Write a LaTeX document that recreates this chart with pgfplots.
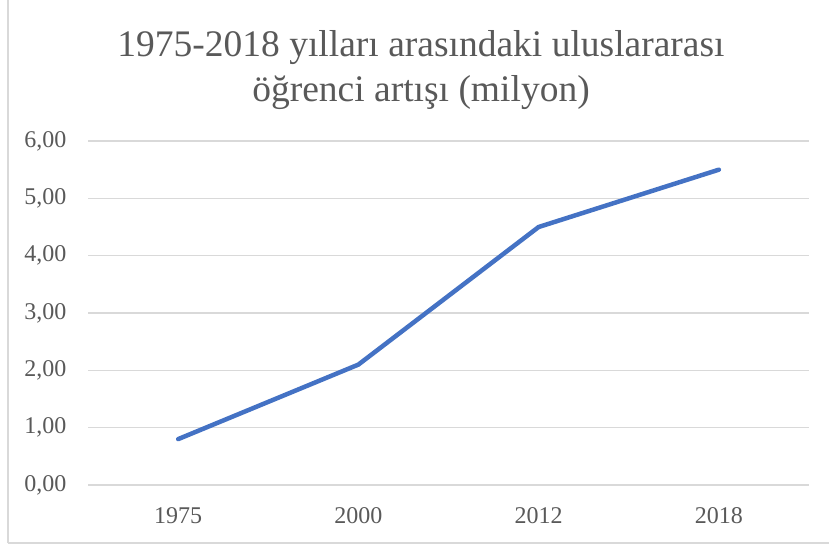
\documentclass[border=0pt]{standalone}
\usepackage{pgfplots}
\pgfplotsset{compat=1.18}
\usepackage{fontspec}
\setmainfont{Liberation Serif}
\definecolor{linecol}{HTML}{4472C4}
\definecolor{txt}{HTML}{595959}
\definecolor{gridgray}{HTML}{D9D9D9}
\begin{document}
\begin{tikzpicture}[x=1pt,y=1pt]
\path[use as bounding box] (0,0) rectangle (829,547);
\draw[gridgray,line width=1.5pt] (8,4) -- (8,560);
\draw[gridgray,line width=1.5pt] (8,4) -- (840,4);
\begin{axis}[
  at={(88pt,62pt)}, anchor=south west,
  scale only axis, width=721pt, height=344pt,
  xmin=-0.5, xmax=3.5, ymin=0, ymax=6,
  xtick={0,1,2,3}, xticklabels={1975,2000,2012,2018},
  ytick={0,1,2,3,4,5,6},
  axis line style={draw=none},
  major tick length=0pt,
  xmajorgrids=false, ymajorgrids=true,
  grid style={draw=gridgray,line width=1.2pt},
  tick label style={font=\fontsize{24}{28}\selectfont, text=txt},
  yticklabel style={xshift=-18pt},
  xticklabel style={yshift=-19pt},
  /pgf/number format/assume math mode=true,
  yticklabel={\pgfmathprintnumber[fixed,fixed zerofill,precision=2,use comma]{\tick}},
  clip=false,
]
\addplot[linecol, line width=4.5pt, line join=round, line cap=round] coordinates {(0,0.80) (1,2.10) (2,4.50) (3,5.50)};
\end{axis}
\node[text=txt, font=\fontsize{37.5}{45}\selectfont, align=center] at (421,477) {1975-2018 yılları arasındaki uluslararası\\öğrenci artışı (milyon)};
\end{tikzpicture}
\end{document}
